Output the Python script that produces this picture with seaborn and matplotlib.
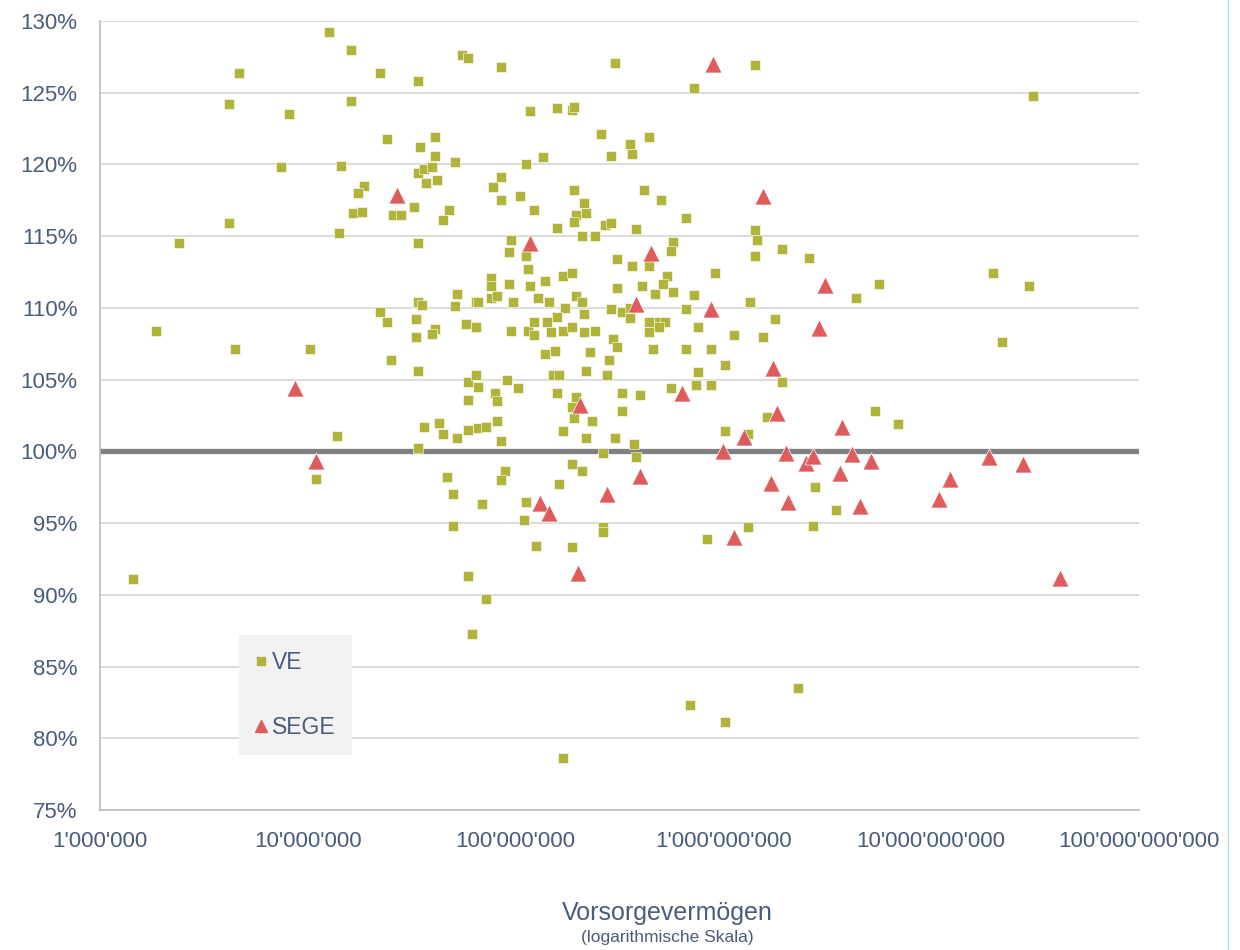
import numpy as np
import pandas as pd
import matplotlib
matplotlib.use("Agg")
import matplotlib.pyplot as plt
import matplotlib.ticker as mticker
from matplotlib.lines import Line2D
import seaborn as sns

# Vorsorgevermögen as log10(CHF), Deckungsgrad in %
ve_log = [7.10, 7.21, 6.67, 7.35, 7.53, 6.62, 7.21, 6.91, 7.38, 7.54,
          6.87, 7.16, 7.27, 7.24, 7.53, 7.22, 7.26, 7.41, 7.45, 7.51,
          6.62, 6.38, 7.15, 7.53, 7.53, 7.35, 7.38, 7.52, 7.52, 6.27,
          6.65, 7.01, 7.40, 7.53, 7.14, 7.04, 7.53, 6.16, 7.61, 7.61,
          7.71, 7.56, 7.60, 7.57, 7.62, 7.68, 7.65, 7.93, 7.89, 7.93,
          8.02, 8.05, 8.13, 8.41, 8.46, 8.09, 8.28, 8.33, 8.34, 8.29,
          8.28, 8.20, 8.43, 8.46, 8.32, 8.38, 7.98, 7.97, 8.05, 8.06,
          7.88, 7.88, 7.97, 8.07, 8.14, 8.23, 8.27, 8.49, 8.49, 7.88,
          7.91, 7.72, 7.71, 7.55, 7.81, 7.82, 7.99, 8.11, 8.16, 8.29,
          8.24, 8.32, 8.33, 8.46, 7.61, 7.60, 7.76, 7.81, 7.98, 8.06,
          8.09, 8.09, 8.15, 8.17, 8.20, 8.23, 8.27, 8.33, 8.38, 8.47,
          8.14, 8.19, 8.36, 8.45, 8.18, 8.21, 8.34, 8.44, 7.77, 7.81,
          7.82, 7.96, 8.01, 8.20, 7.90, 7.91, 7.77, 8.29, 8.27, 8.28,
          8.37, 8.23, 8.34, 8.48, 7.56, 7.63, 7.65, 7.72, 7.77, 7.82,
          7.86, 7.91, 7.93, 8.42, 8.27, 8.32, 7.67, 7.95, 7.93, 8.21,
          7.70, 7.84, 8.05, 7.70, 8.04, 8.42, 8.42, 8.10, 8.27, 7.77,
          7.86, 7.79, 8.23, 8.51, 8.57, 8.58, 8.92, 9.12, 9.01, 9.12,
          9.21, 9.44, 9.43, 8.84, 9.01, 9.36, 9.73, 9.84, 9.54, 10.49,
          9.41, 9.64, 9.75, 10.30, 10.47, 10.34, 8.55, 8.56, 8.64, 8.62,
          8.70, 8.82, 8.58, 9.15, 9.16, 8.76, 8.75, 8.56, 8.64, 9.15,
          9.28, 8.73, 8.71, 8.96, 8.61, 8.67, 8.76, 8.86, 8.51, 8.55,
          8.55, 8.64, 8.69, 8.72, 8.64, 8.69, 8.82, 9.13, 8.88, 9.25,
          9.05, 9.19, 8.49, 8.66, 8.82, 8.94, 9.01, 8.88, 8.87, 8.94,
          8.75, 8.51, 8.60, 9.28, 7.74, 7.77, 7.93, 8.48, 9.15, 8.86,
          8.07, 8.20, 8.27, 8.28]
ve_pct = [129.2, 128.0, 126.4, 126.4, 125.8, 124.2, 124.4, 123.5, 121.8, 121.2,
          119.8, 119.9, 118.5, 118.0, 119.4, 116.6, 116.7, 116.5, 116.5, 117.0,
          115.9, 114.5, 115.2, 114.5, 110.4, 109.7, 109.0, 109.2, 108.0, 108.4,
          107.1, 107.1, 106.4, 105.6, 101.1, 98.1, 100.2, 91.1, 121.9, 120.6,
          120.2, 119.7, 119.8, 118.7, 118.9, 116.8, 116.1, 119.1, 118.4, 117.5,
          117.8, 120.0, 120.5, 122.1, 120.6, 116.8, 118.2, 117.3, 116.6, 116.5,
          116.0, 115.6, 115.8, 115.9, 115.0, 115.0, 114.7, 113.9, 113.6, 112.7,
          112.1, 111.5, 111.7, 111.5, 111.9, 112.2, 112.4, 113.4, 111.4, 110.7,
          110.8, 111.0, 110.1, 110.2, 110.4, 110.4, 110.4, 110.7, 110.4, 110.8,
          110.0, 110.4, 109.6, 109.9, 108.5, 108.2, 108.9, 108.7, 108.4, 108.4,
          109.0, 108.1, 109.0, 108.3, 109.4, 108.4, 108.7, 108.3, 108.4, 107.8,
          106.8, 107.0, 106.9, 106.4, 105.3, 105.3, 105.6, 105.3, 104.8, 105.3,
          104.5, 105.0, 104.4, 104.1, 104.1, 103.5, 103.6, 103.8, 103.1, 102.3,
          102.1, 101.4, 100.9, 100.9, 101.7, 102.0, 101.2, 100.9, 101.5, 101.6,
          101.7, 102.1, 100.7, 99.9, 99.1, 98.6, 98.2, 98.6, 98.0, 97.7,
          97.0, 96.3, 96.5, 94.8, 95.2, 94.7, 94.4, 93.4, 93.3, 91.3,
          89.7, 87.3, 78.6, 102.8, 100.5, 99.6, 93.9, 94.7, 101.4, 101.2,
          102.4, 97.5, 94.8, 82.3, 81.1, 83.5, 102.8, 101.9, 95.9, 124.8,
          113.5, 110.7, 111.7, 112.4, 111.5, 107.6, 121.4, 120.7, 121.9, 118.2,
          117.5, 116.3, 115.5, 115.4, 114.7, 114.6, 114.0, 112.9, 112.9, 113.6,
          114.1, 112.2, 111.7, 112.4, 111.5, 111.0, 111.1, 110.9, 109.7, 110.0,
          109.3, 109.0, 109.0, 109.0, 108.3, 108.7, 109.9, 110.4, 108.7, 109.2,
          108.1, 108.0, 107.3, 107.1, 107.1, 107.1, 106.0, 105.5, 104.6, 104.6,
          104.4, 104.1, 103.9, 104.8, 127.6, 127.4, 126.8, 127.1, 126.9, 125.3,
          123.7, 123.9, 123.8, 124.0]

sege_log = [6.94, 7.04, 7.43, 8.07, 8.12, 8.16, 8.31, 8.30, 8.44, 8.58,
            8.60, 8.65, 8.80, 8.94, 8.95, 9.00, 9.05, 9.10, 9.19, 9.24,
            9.23, 9.26, 9.30, 9.31, 9.40, 9.43, 9.46, 9.49, 9.56, 9.57,
            9.62, 9.66, 9.71, 10.04, 10.09, 10.28, 10.44, 10.62]
sege_pct = [104.4, 99.3, 117.9, 114.5, 96.4, 95.7, 103.2, 91.5, 97.0, 110.3,
            98.3, 113.8, 104.1, 109.9, 127.0, 100.0, 94.0, 101.0, 117.8, 105.8,
            97.8, 102.7, 99.9, 96.5, 99.2, 99.7, 108.6, 111.6, 98.5, 101.7,
            99.8, 96.2, 99.3, 96.7, 98.1, 99.6, 99.1, 91.2]

y_ticks = list(range(75, 131, 5))
x_ticks = [1e6, 1e7, 1e8, 1e9, 1e10, 1e11]
x_tick_labels = ["1'000'000", "10'000'000", "100'000'000", "1'000'000'000",
                 "10'000'000'000", "100'000'000'000"]

ve_df = pd.DataFrame({'verm': np.power(10.0, ve_log), 'dg': ve_pct})
sege_df = pd.DataFrame({'verm': np.power(10.0, sege_log), 'dg': sege_pct})

sns.set_style("white")
plt.rcParams['font.family'] = ['Liberation Sans', 'DejaVu Sans']

txt_col = '#4A5B7B'
green = '#B1B43B'
red = '#DE5C5C'

fig = plt.figure(figsize=(12.4, 9.5), dpi=100)
ax = fig.add_axes([0.0806, 0.1474, 0.8379, 0.8305])

ax.yaxis.grid(True, color='#D9D9D9', lw=1.3)
ax.set_axisbelow(True)
ax.axhline(100, color='#808080', lw=3.8, zorder=1.5)

sns.scatterplot(data=ve_df, x='verm', y='dg', marker='s', s=42, color=green,
                edgecolor='white', linewidth=0.4, zorder=3, ax=ax)
sns.scatterplot(data=sege_df, x='verm', y='dg', marker='^', s=150, color=red,
                edgecolor='white', linewidth=0.5, zorder=4, ax=ax)

ax.set_xscale('log')
ax.set_xlim(1e6, 1e11)
ax.set_ylim(75, 130)
ax.set_xticks(x_ticks)
ax.set_xticklabels(x_tick_labels)
ax.xaxis.set_minor_locator(mticker.LogLocator(base=10, subs=range(2, 10)))
ax.xaxis.set_minor_formatter(mticker.NullFormatter())
ax.set_yticks(y_ticks)
ax.set_yticklabels([f"{v}%" for v in y_ticks])
ax.set_xlabel('')
ax.set_ylabel('')

ax.tick_params(axis='x', which='major', direction='out', length=5.5, width=1,
               color='#BFBFBF', labelsize=16, labelcolor=txt_col, pad=10)
ax.tick_params(axis='x', which='minor', direction='out', length=4, width=1,
               color='#BFBFBF')
ax.tick_params(axis='y', length=0, labelsize=16, labelcolor=txt_col, pad=16)

for side in ['top', 'right']:
    ax.spines[side].set_visible(False)
for side in ['left', 'bottom']:
    ax.spines[side].set_color('#BFBFBF')
    ax.spines[side].set_linewidth(1.3)

handles = [Line2D([], [], marker='s', ls='', color=green, ms=6, label='VE'),
           Line2D([], [], marker='^', ls='', color=red, ms=8, label='SEGE')]
leg = ax.legend(handles=handles, loc='lower left', bbox_to_anchor=(0.134, 0.07),
                frameon=True, fancybox=False, facecolor='#F2F2F2', edgecolor='none',
                framealpha=1, fontsize=16.5, labelspacing=1.8, handletextpad=0.25,
                handlelength=0.5, borderpad=0.7, borderaxespad=0)
for t in leg.get_texts():
    t.set_color(txt_col)

fig.text(0.538, 0.032, 'Vorsorgevermögen', ha='center', va='baseline',
         fontsize=18, color=txt_col)
fig.text(0.538, 0.008, '(logarithmische Skala)', ha='center', va='baseline',
         fontsize=12.5, color=txt_col)

fig.add_artist(Line2D([1228 / 1240, 1228 / 1240], [0, 1], color='#BDD7EE', lw=1))

fig.savefig('out.png', dpi=100)
